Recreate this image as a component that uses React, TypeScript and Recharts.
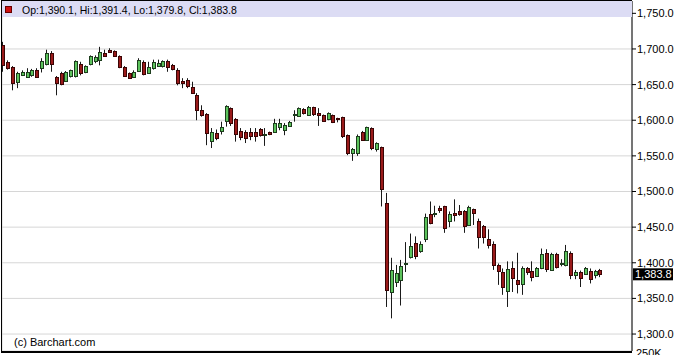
import { ComposedChart, Bar, XAxis, YAxis, CartesianGrid, ReferenceLine } from "recharts";

const OPEN = [
  1705, 1682, 1674, 1654, 1663, 1661, 1663, 1671, 1673, 1679, 1695, 1660, 1666, 1656, 1661, 1662, 1679, 1667, 1679, 1683,
  1685, 1695, 1699, 1697, 1690, 1675, 1666, 1661, 1670, 1682, 1667, 1674, 1677, 1676, 1683, 1677, 1671, 1655, 1657, 1647,
  1635, 1614, 1609, 1572, 1582, 1584, 1599, 1617, 1602, 1585, 1584, 1583, 1583, 1587, 1580, 1583, 1584, 1591, 1586, 1592,
  1607, 1606, 1616, 1608, 1618, 1610, 1607, 1602, 1607, 1603, 1604, 1579, 1554, 1554, 1583, 1572, 1589, 1560, 1562, 1484,
  1359, 1373, 1376, 1397, 1408, 1428, 1416, 1433, 1468, 1468, 1477, 1479, 1459, 1470, 1473, 1472, 1453, 1475, 1459, 1452,
  1434, 1427, 1397, 1387, 1360, 1393, 1376, 1370, 1392, 1389, 1381, 1394, 1414, 1390, 1412, 1399, 1397, 1414, 1383, 1387,
  1384, 1389, 1384, 1390.1,
];
const HIGH = [
  1710, 1684, 1676, 1668, 1670, 1673, 1672, 1673, 1687, 1699, 1697, 1662, 1668, 1669, 1671, 1684, 1682, 1677, 1691, 1691,
  1703, 1699, 1701, 1698, 1691, 1676, 1667, 1670, 1687, 1684, 1682, 1685, 1685, 1684, 1685, 1679, 1673, 1659, 1659, 1654,
  1638, 1621, 1610, 1589, 1587, 1598, 1621, 1618, 1603, 1589, 1586, 1589, 1589, 1589, 1589, 1584, 1602, 1602, 1596, 1599,
  1614, 1618, 1617, 1620, 1619, 1617, 1608, 1611, 1608, 1603.5, 1605, 1580, 1561, 1580, 1585, 1591, 1590, 1569, 1563, 1498,
  1407, 1397, 1404, 1429, 1441, 1437, 1430, 1469, 1486, 1480, 1480, 1480, 1472, 1489, 1481, 1474, 1480, 1476, 1462, 1453,
  1447, 1430, 1399, 1392, 1402, 1402, 1414, 1395, 1394, 1402, 1394, 1420, 1419, 1414, 1414, 1405, 1425, 1416, 1390, 1389,
  1394, 1392, 1390, 1391.4,
];
const LOW = [
  1668, 1671, 1642, 1645, 1662, 1660, 1661, 1660, 1667, 1677, 1668, 1635, 1649, 1655, 1660, 1660, 1663, 1666, 1677, 1680,
  1677, 1689, 1695, 1689, 1673, 1661, 1658, 1660, 1668, 1663, 1666, 1671, 1675, 1674, 1668, 1670, 1649, 1645, 1645, 1638,
  1600, 1605, 1565, 1561, 1572, 1580, 1591, 1592, 1570, 1572, 1568, 1572, 1570, 1577, 1564, 1579, 1583, 1586, 1579, 1591,
  1598, 1605, 1608, 1607, 1606, 1592, 1598, 1600, 1596, 1597, 1575, 1551, 1543, 1550, 1571, 1571, 1558, 1556, 1479, 1338,
  1322, 1366, 1340, 1387, 1406, 1405, 1414, 1429, 1454, 1464, 1470, 1442, 1450, 1458, 1466, 1442, 1452, 1453, 1420, 1427,
  1420, 1390, 1369, 1355, 1338, 1359, 1357, 1355, 1383, 1374, 1380, 1391, 1387, 1389, 1392, 1395, 1395, 1377, 1377, 1366,
  1383, 1371, 1378, 1379.8,
];
const CLOSE = [
  1677, 1674, 1652, 1666, 1667, 1668, 1670, 1661, 1683, 1695, 1680, 1652, 1651, 1668, 1670, 1683, 1667, 1676, 1690, 1689,
  1696, 1691, 1696, 1690, 1675, 1662, 1659, 1668, 1685, 1665, 1675, 1682, 1681, 1683, 1675, 1671, 1653, 1652, 1648, 1639,
  1614, 1607, 1582, 1584, 1575, 1590, 1620, 1596, 1581, 1576, 1576, 1577, 1578, 1578, 1581, 1580, 1596, 1596, 1593, 1598,
  1609, 1617, 1610, 1619, 1608, 1607, 1599, 1610, 1597, 1602, 1577, 1554, 1560, 1578, 1572, 1590, 1561, 1568, 1503, 1362,
  1390, 1386, 1395, 1399, 1424, 1410, 1426, 1464, 1455, 1470, 1474, 1448, 1469, 1467, 1469, 1451, 1478, 1470, 1437, 1436,
  1425, 1397, 1389, 1366, 1391, 1379, 1370, 1393, 1387, 1381, 1392, 1413, 1392, 1413, 1394, 1400, 1416, 1383, 1387, 1378,
  1392, 1378, 1389, 1383.8,
];

// price levels on the right axis, and the sessions where a new month starts
const Y_TICKS = [1300, 1350, 1400, 1450, 1500, 1550, 1600, 1650, 1700, 1750];
const MONTH_STARTS = [10.1, 31.1, 50.1, 69.8, 91.9, 113.7];

const data = OPEN.map((o, i) => ({
  idx: i + 1,
  open: o,
  high: HIGH[i],
  low: LOW[i],
  close: CLOSE[i],
  range: [LOW[i], HIGH[i]],
}));

const last = data[data.length - 1];
const fmt = (v: number) => v.toLocaleString("en-US", { minimumFractionDigits: 1, maximumFractionDigits: 1 });
const FONT = "'Liberation Sans', Arial, sans-serif";

const Candle = (props: any) => {
  const { x, y, width, height, payload } = props;
  const { open, high, low, close } = payload;
  const top = Math.min(y, y + height);
  const h = Math.abs(height);
  const py = (v: number) => (high === low ? top : top + ((high - v) / (high - low)) * h);
  const cx = Math.floor(x + width / 2);
  const up = close >= open;
  const yo = py(open);
  const yc = py(close);
  const bTop = Math.round(Math.min(yo, yc)) + 0.5;
  const bH = Math.max(1, Math.round(Math.abs(yo - yc)));
  return (
    <g>
      <line x1={cx + 0.5} x2={cx + 0.5} y1={top} y2={top + h} stroke="#1a1a1a" strokeWidth={1} />
      <rect
        x={cx - 0.5}
        y={bTop}
        width={3}
        height={bH}
        fill={up ? "#5cc35c" : "#9a1a1a"}
        stroke={up ? "#1d3d1d" : "#3a0505"}
        strokeWidth={1}
        shapeRendering="crispEdges"
      />
    </g>
  );
};

const LastPrice = (props: any) => {
  const { x, y, width } = props.viewBox;
  const left = x + width + 1;
  return (
    <g>
      <rect x={left} y={y - 6} width={40} height={12} fill="#000" />
      <text x={left + 2} y={y + 4} fill="#fff" fontSize={11} fontFamily={FONT}>
        {fmt(last.close)}
      </text>
    </g>
  );
};

export default function App() {
  return (
    <div style={{ position: "relative", width: 676, height: 355, overflow: "hidden", background: "#fff", fontFamily: FONT }}>
      <style>{"body{margin:0}"}</style>
      <ComposedChart width={676} height={355} data={data} margin={{ top: 1, right: 0, bottom: 4, left: 2 }}>
        <CartesianGrid stroke="#d6d6d6" />
        <XAxis
          dataKey="idx"
          type="number"
          domain={[0.753, 130.51]}
          allowDataOverflow
          ticks={MONTH_STARTS}
          tick={false}
          tickLine={false}
          axisLine={false}
          height={0}
        />
        <YAxis
          orientation="right"
          width={44}
          domain={[1276.2, 1767.3]}
          allowDataOverflow
          ticks={Y_TICKS}
          tickFormatter={fmt}
          tick={{ fill: "#000", fontSize: 11, fontFamily: FONT }}
          tickSize={4}
          tickMargin={1}
          tickLine={{ stroke: "#000" }}
          axisLine={{ stroke: "#000" }}
        />
        <Bar dataKey="range" barSize={4} shape={<Candle />} isAnimationActive={false} />
        <ReferenceLine y={last.close} stroke="none" label={<LastPrice />} />
      </ComposedChart>

      <div style={{ position: "absolute", left: 2, top: 1, width: 630, height: 16, background: "#dcdcf4" }} />
      <div style={{ position: "absolute", left: 5, top: 6, width: 5, height: 5, background: "#d01010", border: "1px solid #600" }} />
      <div style={{ position: "absolute", left: 22, top: 3, fontSize: 10.5, lineHeight: "14px", color: "#000", whiteSpace: "nowrap" }}>
        {`Op:${fmt(last.open)}, Hi:${fmt(last.high)}, Lo:${fmt(last.low)}, Cl:${fmt(last.close)}`}
      </div>
      <div
        style={{
          position: "absolute",
          left: 1,
          top: 0,
          width: 631,
          height: 353,
          boxSizing: "border-box",
          borderLeft: "1px solid #000",
          borderTop: "1px solid #000",
          borderBottom: "2px solid #000",
          pointerEvents: "none",
        }}
      />
      <div style={{ position: "absolute", left: 14, top: 336, fontSize: 11, lineHeight: "13px", color: "#000" }}>(c) Barchart.com</div>
      <div style={{ position: "absolute", left: 636, top: 347, fontSize: 11, lineHeight: "13px", color: "#000" }}>250K</div>
    </div>
  );
}
